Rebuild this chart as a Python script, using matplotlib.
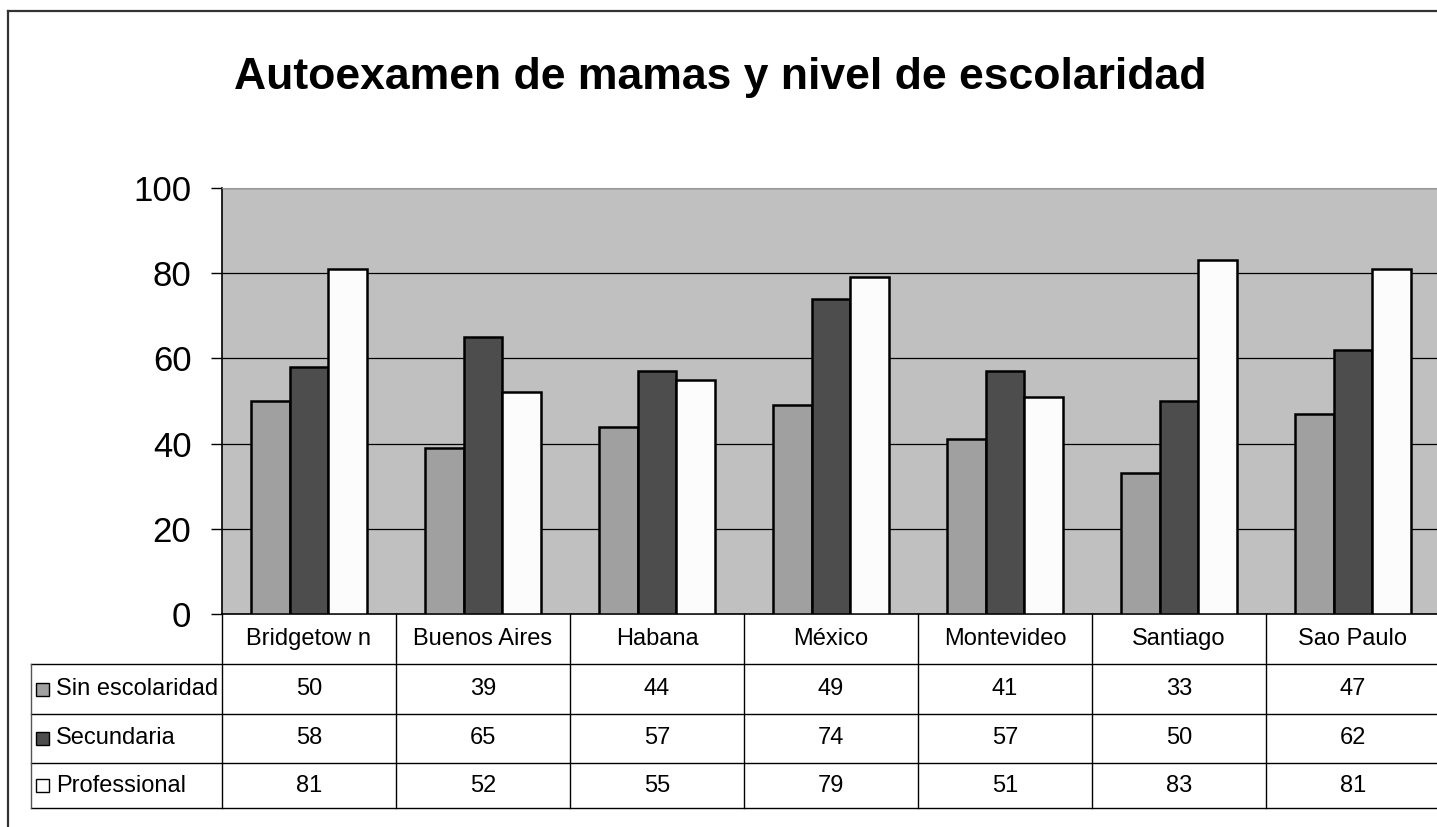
import numpy as np
import matplotlib
matplotlib.use("Agg")
import matplotlib.pyplot as plt
import matplotlib.transforms as mtransforms
from matplotlib.patches import Rectangle

plt.rcParams['font.family'] = ['Liberation Sans', 'DejaVu Sans']

titulo = "Autoexamen de mamas y nivel de escolaridad"
ciudades = ["Bridgetow n", "Buenos Aires", "Habana", "México", "Montevideo", "Santiago", "Sao Paulo"]
series = ["Sin escolaridad", "Secundaria", "Professional"]
sin_escolaridad = [50, 39, 44, 49, 41, 33, 47]
secundaria = [58, 65, 57, 74, 57, 50, 62]
professional = [81, 52, 55, 79, 51, 83, 81]
valores = [sin_escolaridad, secundaria, professional]
colores = ["#A0A0A0", "#4D4D4D", "#FCFCFC"]

W, H = 1437, 827
fig = plt.figure(figsize=(W / 100, H / 100), dpi=100)

# plot area in pixel terms
ax = fig.add_axes([222 / W, 1 - 614 / H, 1218 / W, 426 / H])
ax.set_facecolor("#C0C0C0")
x = np.arange(len(ciudades))
w = 0.224
for k, (vals, c) in enumerate(zip(valores, colores)):
    ax.bar(x + (k - 1) * w, vals, w, color=c, edgecolor="black", linewidth=1.8, zorder=3)

ax.set_xlim(-0.5, len(ciudades) - 0.5)
ax.set_ylim(0, 100)
ax.set_yticks(range(0, 101, 20))
ax.set_xticks([])
ax.grid(axis="y", color="black", linewidth=0.9, zorder=1)
ax.tick_params(axis="y", length=8, width=1, pad=14, labelsize=25)
ax.spines["right"].set_visible(False)
ax.spines["top"].set_color("#999999")
ax.spines["left"].set_linewidth(1.2)
ax.spines["bottom"].set_linewidth(1.2)

# overlay in pixel coordinates for title, frame and data table
ov = fig.add_axes([0, 0, 1, 1], zorder=5)
ov.set_xlim(0, W)
ov.set_ylim(H, 0)
ov.axis("off")
ov.patch.set_alpha(0)

ov.text(720, 78, titulo, ha="center", va="center", fontsize=32, fontweight="bold")
ov.plot([8, 8], [H, 11], color="#333333", lw=1.6)
ov.plot([8, W], [11, 11], color="#333333", lw=1.6)

tr = mtransforms.blended_transform_factory(ax.transData, ov.transData)
row_lines = [664, 714, 763, 808]
for xb in np.arange(len(ciudades) + 1) - 0.5:
    ov.plot([xb, xb], [614, 808], color="black", lw=1, transform=tr, clip_on=False)
for yl in row_lines:
    ov.plot([31, W], [yl, yl], color="black", lw=1)
ov.plot([31, 31], [664, 808], color="#555555", lw=1)

for i, c in enumerate(ciudades):
    ov.text(i, 639, c, ha="center", va="center", fontsize=17, transform=tr)

for r, (nombre, vals, c) in enumerate(zip(series, valores, colores)):
    yc = (row_lines[r] + row_lines[r + 1]) / 2
    ov.add_patch(Rectangle((36, yc - 6.5), 13, 13, facecolor=c, edgecolor="black", lw=1))
    ov.text(56, yc, nombre, ha="left", va="center", fontsize=17)
    for i, v in enumerate(vals):
        ov.text(i, yc, str(v), ha="center", va="center", fontsize=17, transform=tr)

fig.savefig("out.png", dpi=100)
